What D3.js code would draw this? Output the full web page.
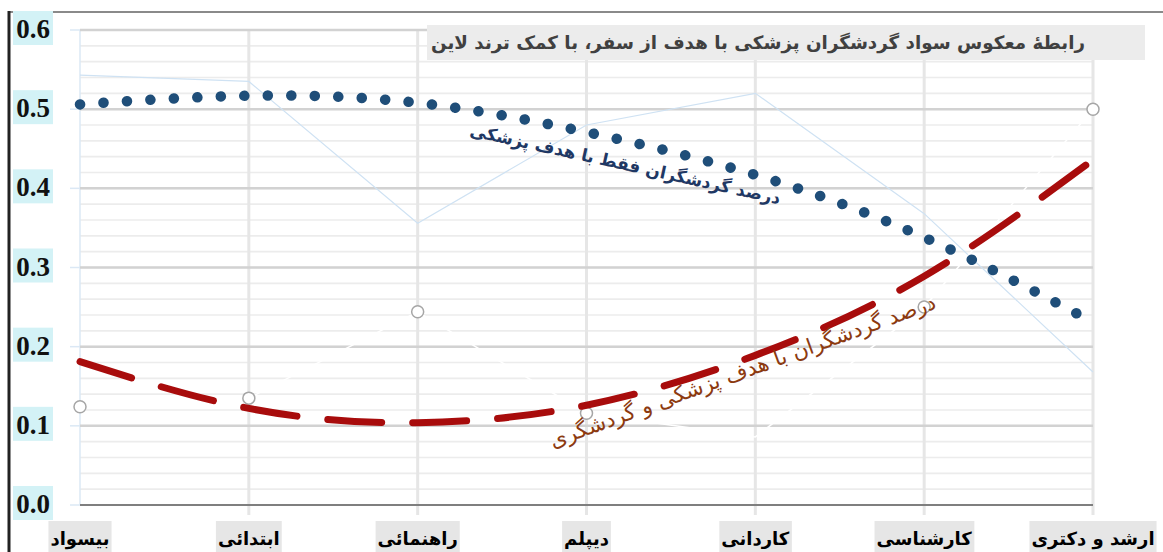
<!DOCTYPE html>
<html>
<head>
<meta charset="utf-8">
<script src="https://cdn.jsdelivr.net/npm/d3@7"></script>
<style>
  body { margin: 0; background: #fff; }
  svg { display: block; }
</style>
</head>
<body>
<div id="chart"></div>
<script>
// categories (education level)
var categories = ["بیسواد", "ابتدائی", "راهنمائی", "دیپلم", "کاردانی", "کارشناسی", "ارشد و دکتری"];
// share of tourists travelling only for medical purposes
var medicalOnly = [0.543, 0.535, 0.356, 0.48, 0.52, 0.368, 0.168];
// share of tourists travelling for medical + tourism purposes
var medicalTourism = [0.124, 0.135, 0.244, 0.116, 0.086, 0.25, 0.50];
// trend lines
var medicalOnlyTrend = [0.506, 0.517, 0.508, 0.471, 0.417, 0.338, 0.231];
var medicalTourismTrend = [0.181, 0.122, 0.104, 0.126, 0.189, 0.289, 0.436];
// markers shown on the medical + tourism series
var markerShown = [true, true, true, true, false, true, true];
var yTicks = [0, 0.1, 0.2, 0.3, 0.4, 0.5, 0.6];
var yMinor = d3.range(0, 0.6001, 0.02);

var title = "رابطهٔ معکوس سواد گردشگران پزشکی با هدف از سفر، با کمک ترند لاین";
var blueLabel = "درصد گردشگران فقط با هدف پزشکی";
var redLabel = "درصد گردشگران با هدف پزشکی و گردشگری";

var w = 1163, h = 552;
var svg = d3.select("#chart").append("svg")
  .attr("width", w)
  .attr("height", h);

var x = d3.scalePoint().domain(categories).range([80, 1093]);
var y = d3.scaleLinear().domain([0, 0.6]).range([505, 30]);

// frame lines
svg.append("line")
  .attr("x1", 8).attr("x2", w).attr("y1", 12).attr("y2", 12)
  .style("stroke", "#8a8a8a").style("stroke-width", 2);
svg.append("line")
  .attr("x1", 9).attr("x2", 9).attr("y1", 11).attr("y2", h)
  .style("stroke", "#222").style("stroke-width", 3);

// minor gridlines
svg.selectAll(".minor")
  .data(yMinor)
  .enter().append("line")
  .attr("class", "minor")
  .attr("x1", 80).attr("x2", 1093)
  .attr("y1", function (d) { return y(d); })
  .attr("y2", function (d) { return y(d); })
  .style("stroke", "#ececec").style("stroke-width", 1.6);

// vertical category gridlines
svg.selectAll(".vgrid")
  .data(categories.slice(1))
  .enter().append("line")
  .attr("class", "vgrid")
  .attr("x1", function (d) { return x(d); })
  .attr("x2", function (d) { return x(d); })
  .attr("y1", y(0.6)).attr("y2", y(0) + 10)
  .style("stroke", "#e6e6e6").style("stroke-width", 3);
svg.append("line")
  .attr("x1", 80).attr("x2", 80).attr("y1", y(0.6)).attr("y2", y(0))
  .style("stroke", "#dbe8f5").style("stroke-width", 1.5);

// major gridlines
svg.selectAll(".major")
  .data(yTicks.slice(1))
  .enter().append("line")
  .attr("class", "major")
  .attr("x1", 80).attr("x2", 1093)
  .attr("y1", function (d) { return y(d); })
  .attr("y2", function (d) { return y(d); })
  .style("stroke", "#d2d2d2").style("stroke-width", 2.5);
svg.selectAll(".tick-mark")
  .data(yTicks)
  .enter().append("line")
  .attr("class", "tick-mark")
  .attr("x1", 70).attr("x2", 80)
  .attr("y1", function (d) { return y(d); })
  .attr("y2", function (d) { return y(d); })
  .style("stroke", "#dbe8f5").style("stroke-width", 1.5);

// x axis line
svg.append("line")
  .attr("x1", 80).attr("x2", 1093).attr("y1", y(0)).attr("y2", y(0))
  .style("stroke", "#7f7f7f").style("stroke-width", 2);

// y tick labels with cyan boxes
var yl = svg.selectAll(".ylab")
  .data(yTicks)
  .enter().append("g")
  .attr("class", "ylab")
  .attr("transform", function (d) { return "translate(0," + y(d) + ")"; });
yl.append("rect")
  .attr("x", 13).attr("y", -19).attr("width", 40).attr("height", 34)
  .style("fill", "#d3f2f6");
yl.append("text")
  .attr("x", 33).attr("y", 8)
  .attr("text-anchor", "middle")
  .style("font-family", "'Liberation Serif', serif")
  .style("font-weight", "bold")
  .style("font-size", "27px")
  .style("fill", "#111")
  .text(function (d) { return d.toFixed(1); });

// x tick labels with gray boxes
var xl = svg.selectAll(".xlab")
  .data(categories)
  .enter().append("g")
  .attr("class", "xlab")
  .attr("transform", function (d) { return "translate(" + x(d) + ",0)"; });
xl.append("text")
  .attr("x", 0).attr("y", 545)
  .attr("text-anchor", "middle")
  .style("font-family", "'DejaVu Sans', sans-serif")
  .style("font-weight", "bold")
  .style("font-size", "18px")
  .style("fill", "#000")
  .text(function (d) { return d; })
  .each(function () {
    var b = this.getBBox();
    d3.select(this.parentNode).insert("rect", "text")
      .attr("x", b.x - 2).attr("y", 521)
      .attr("width", b.width + 4).attr("height", 31)
      .style("fill", "#e6e6e6");
  });

// raw medical-only series (faint line)
var line = d3.line()
  .x(function (d, i) { return x(categories[i]); })
  .y(function (d) { return y(d); });
svg.append("path")
  .attr("d", line(medicalOnly))
  .style("fill", "none")
  .style("stroke", "#cfe2f3")
  .style("stroke-width", 1.2);

// raw medical + tourism series (white line, gray markers)
svg.append("path")
  .attr("d", line(medicalTourism))
  .style("fill", "none")
  .style("stroke", "#fff")
  .style("stroke-width", 1.5);
svg.selectAll(".marker")
  .data(medicalTourism.filter(function (d, i) { return markerShown[i]; })
    .map(function (d) { return { v: d, i: medicalTourism.indexOf(d) }; }))
  .enter().append("circle")
  .attr("class", "marker")
  .attr("cx", function (d) { return x(categories[d.i]); })
  .attr("cy", function (d) { return y(d.v); })
  .attr("r", 6)
  .style("fill", "#fff")
  .style("stroke", "#a6a6a6")
  .style("stroke-width", 1.5);

// trend lines
var trend = d3.line()
  .x(function (d, i) { return x(categories[i]); })
  .y(function (d) { return y(d); })
  .curve(d3.curveNatural);
svg.append("path")
  .attr("d", trend(medicalTourismTrend))
  .style("fill", "none")
  .style("stroke", "#a80c0c")
  .style("stroke-width", 7)
  .style("stroke-linecap", "round")
  .style("stroke-dasharray", "54,31");
svg.append("path")
  .attr("d", trend(medicalOnlyTrend))
  .style("fill", "none")
  .style("stroke", "#1f4e79")
  .style("stroke-width", 10.5)
  .style("stroke-linecap", "round")
  .style("stroke-dasharray", "0.1,23.4");

// curve labels
svg.append("text")
  .attr("transform", "translate(624,170) rotate(12.5)")
  .attr("text-anchor", "middle")
  .style("font-family", "'DejaVu Sans', sans-serif")
  .style("font-weight", "bold")
  .style("font-size", "17px")
  .style("fill", "#1f3864")
  .text(blueLabel);
svg.append("text")
  .attr("transform", "translate(745,378) rotate(-20)")
  .attr("text-anchor", "middle")
  .style("font-family", "'DejaVu Sans', sans-serif")
  .style("font-size", "21.5px")
  .style("fill", "#8c3a10")
  .text(redLabel);

// title box
svg.append("rect")
  .attr("x", 427).attr("y", 25).attr("width", 718).attr("height", 35)
  .style("fill", "#ececec");
svg.append("text")
  .attr("x", 758).attr("y", 49)
  .attr("text-anchor", "middle")
  .style("font-family", "'DejaVu Sans', sans-serif")
  .style("font-weight", "bold")
  .style("font-size", "18.3px")
  .style("fill", "#404040")
  .text(title);
</script>
</body>
</html>
